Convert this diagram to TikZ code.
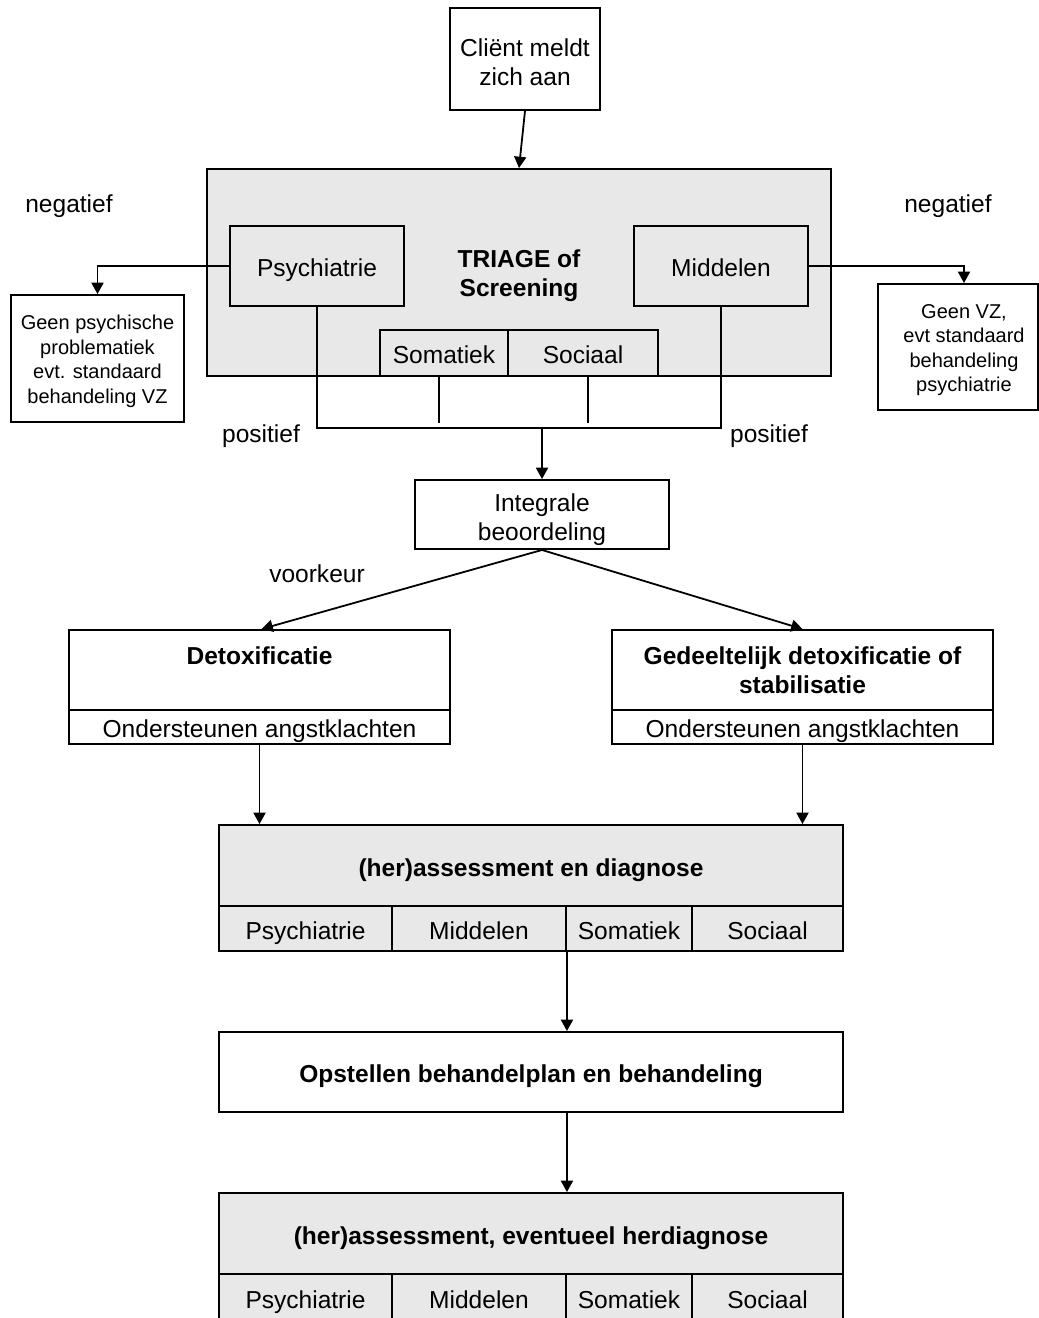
\documentclass[tikz,border=0pt]{standalone}
\usepackage{fontspec}
\setmainfont{Liberation Sans}
\usetikzlibrary{arrows.meta}
\definecolor{panelgray}{HTML}{E8E8E8}

\tikzset{
  box/.style={draw, line width=1.45pt, inner sep=0pt, align=center,
    font=\fontsize{18.4}{21.75}\selectfont},
  gbox/.style={box, fill=panelgray},
  one/.style={text height=16.2pt, text depth=0pt},
  bold/.style={font=\fontsize{18.4}{21.75}\selectfont\bfseries},
  smallbox/.style={draw, line width=1.45pt, inner sep=0pt, align=center,
    font=\fontsize{15}{18.4}\selectfont},
  lbl/.style={inner sep=0pt, font=\fontsize{18.4}{21.75}\selectfont},
  arr/.style={line width=1.35pt, -{Triangle[length=8.5pt,width=9pt]}},
  link/.style={line width=1.35pt},
  stub/.style={line width=0.9pt},
}

% rectangle node from its corners: name, x1, y1, x2, y2, style, text
\newcommand\cellbox[7]{%
  \node[#6, minimum width={(#4-#2)*0.75pt}, minimum height={(#5-#3)*0.75pt}]
    (#1) at ({(#2+#4)/2},{(#3+#5)/2}) {#7};}
% invisible strut that sets the height of a first text line
\newcommand\lineheight[1]{\rule{0pt}{#1}}

\begin{document}
\begin{tikzpicture}[x=0.75pt,y=-0.75pt]
\useasboundingbox (0,0) rectangle (1039,1318);
\clip (0,0) rectangle (1039,1318);

% intake
\cellbox{client}{450}{8}{600}{110}{box}{\lineheight{18.1pt}Cliënt meldt\\zich aan}

% triage panel with its four domains
\cellbox{triage}{207}{169}{831}{376}{gbox}{}
\node[lbl,bold,align=center] (triagelbl) at (519,276) {TRIAGE of\\Screening};
\cellbox{psy}{230}{226}{404}{306}{gbox,one}{Psychiatrie}
\cellbox{mid}{634}{226}{808}{306}{gbox,one}{Middelen}
\cellbox{soma}{380}{330}{508}{376}{gbox,one}{Somatiek}
\cellbox{soc}{508}{330}{658}{376}{gbox,one}{Sociaal}

% negative outcomes
\cellbox{geenpsy}{11}{295}{184}{422}{smallbox}
  {\lineheight{15.3pt}Geen psychische\\problematiek\\evt. standaard\\behandeling VZ}
\cellbox{geenvz}{878}{284}{1038}{410}{smallbox}
  {\lineheight{15.3pt}\hspace*{9pt}Geen VZ,\\\hspace*{9pt}evt standaard\\\hspace*{9pt}behandeling\\\hspace*{9pt}psychiatrie}

% edge labels
\node[lbl] (neg1) at (69,206) {negatief};
\node[lbl] (neg2) at (948,206) {negatief};
\node[lbl] (pos1) at (261,436) {positief};
\node[lbl] (pos2) at (769,436) {positief};
\node[lbl] (pref) at (317,574) {voorkeur};

% integral assessment
\cellbox{integ}{415}{480}{669}{549}{box}{\lineheight{21.5pt}Integrale\\beoordeling}

% detox routes
\cellbox{detox}{69}{630}{450}{710}{box,bold}{Detoxificatie\\\mbox{}}
\cellbox{detoxsub}{69}{710}{450}{744}{box,one}{Ondersteunen angstklachten}
\cellbox{partial}{612}{630}{993}{710}{box,bold}{Gedeeltelijk detoxificatie of\\stabilisatie}
\cellbox{partialsub}{612}{710}{993}{744}{box,one}{Ondersteunen angstklachten}

% (re)assessment and diagnosis
\cellbox{assess}{219}{825}{843}{906}{gbox,bold,one}{(her)assessment en diagnose}
\cellbox{a1}{219}{906}{392}{951}{gbox,one}{Psychiatrie}
\cellbox{a2}{392}{906}{566}{951}{gbox,one}{Middelen}
\cellbox{a3}{566}{906}{692}{951}{gbox,one}{Somatiek}
\cellbox{a4}{692}{906}{843}{951}{gbox,one}{Sociaal}

% treatment plan
\cellbox{plan}{219}{1032}{843}{1112}{box,bold,one}{Opstellen behandelplan en behandeling}

% reassessment
\cellbox{reass}{219}{1193}{843}{1274}{gbox,bold,one}{(her)assessment, eventueel herdiagnose}
\cellbox{b1}{219}{1274}{392}{1321}{gbox,one}{Psychiatrie}
\cellbox{b2}{392}{1274}{566}{1321}{gbox,one}{Middelen}
\cellbox{b3}{566}{1274}{692}{1321}{gbox,one}{Somatiek}
\cellbox{b4}{692}{1274}{843}{1321}{gbox,one}{Sociaal}

% connectors
\coordinate (join) at (542,428);
\draw[arr] (client.south) -- (triage.north);
\draw[arr] (psy.west) -| (geenpsy.north);
\draw[arr] (mid.east) -| ([xshift=4.5pt]geenvz.north);
\draw[link] (psy.south) |- (join) -| (mid.south);
\draw[stub] ([xshift=-3.75pt]soma.south) -- ++(0,46);
\draw[stub] ([xshift=3.75pt]soc.south) -- ++(0,46);
\draw[arr] (join) -- (integ.north);
\draw[arr] (integ.south) -- ([xshift=1.5pt]detox.north);
\draw[arr] (integ.south) -- (partial.north);
\draw[arr] (detoxsub.south) -- (detoxsub.south |- assess.north);
\draw[arr] (partialsub.south) -- (partialsub.south |- assess.north);
\draw[arr] (a2.south east) -- (a2.south east |- plan.north);
\draw[arr] (a2.south east |- plan.south) -- (b2.north east |- reass.north);
\end{tikzpicture}
\end{document}
